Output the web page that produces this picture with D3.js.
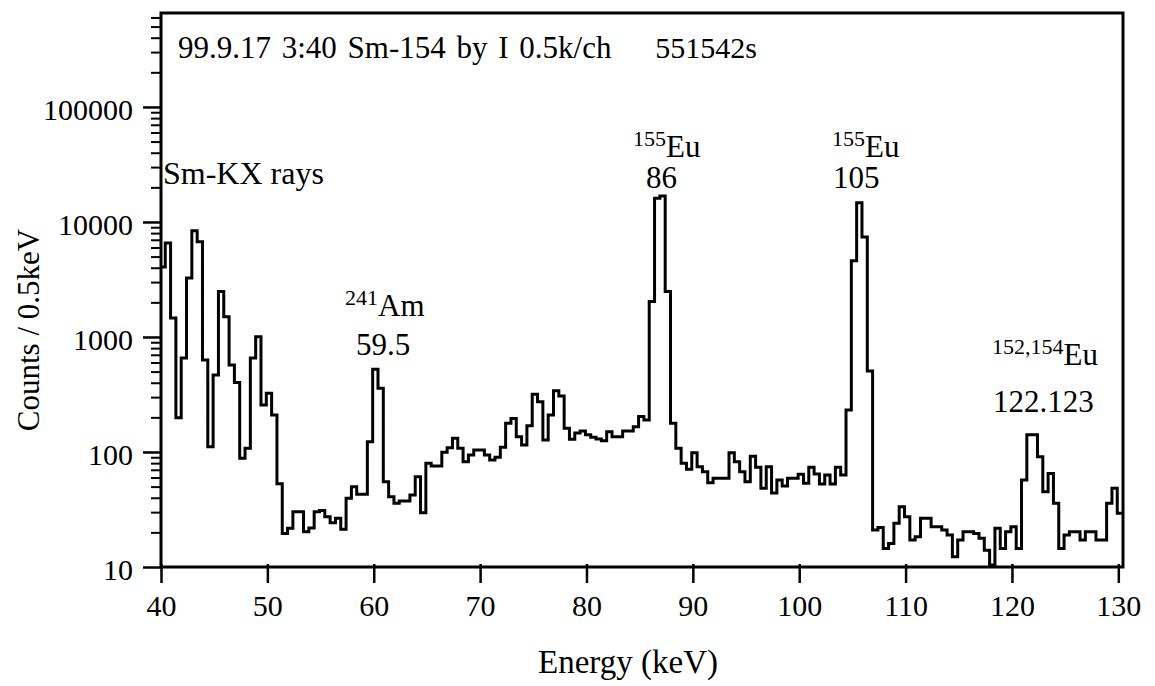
<!DOCTYPE html>
<html><head><meta charset="utf-8">
<script src="https://cdn.jsdelivr.net/npm/d3@7"></script>
<style>
body{margin:0;background:#fff}
text{font-family:"Liberation Serif","Times New Roman",serif;fill:#000}
</style>
</head><body>
<svg id="chart" width="1155" height="686"></svg>
<script>
// ---- data ----
const channelStart = 39.9;   // keV, lower edge of first channel
const channelWidth = 0.5;    // keV per channel
const counts = [
  4060, 6570, 1460, 198, 656, 3260, 8400, 6740, 631, 111,
  468, 2480, 1500, 571, 401, 88, 108, 656, 1006, 256,
  324, 210, 53, 19.6, 21.7, 30.3, 30.3, 20.3, 21.8, 30.3,
  31, 27.4, 24.3, 26.5, 21.3, 39.6, 49.9, 43, 43, 123,
  524, 358, 55.2, 40.8, 35.8, 37.5, 37.5, 42.3, 61, 29.7,
  79.8, 75.5, 75.5, 99.4, 109, 131.5, 108, 82.4, 94.2, 104,
  104, 94, 85, 90, 110, 178, 196, 136, 115, 169,
  318, 274, 127, 210, 341, 307, 161, 129, 146, 152,
  141, 134, 130, 125, 150, 136, 136, 152, 152, 166,
  203, 190, 2030, 16070, 16800, 2480, 178, 108, 80, 70.8,
  98.6, 74.5, 67.4, 54, 59, 59, 59, 98.6, 82.4, 67.4,
  55, 92, 73.6, 48.3, 74.5, 44, 57, 50.6, 59, 59,
  64, 53.5, 73.6, 64.4, 52.7, 63, 52.7, 73.6, 63, 232,
  4600, 14700, 7400, 505, 21, 22, 14.5, 16, 24, 33.4,
  27.4, 17.2, 18.3, 26.5, 26.5, 22.4, 22.4, 21, 19, 12.3,
  17.2, 20.3, 20.3, 19.6, 17.8, 14, 10.4, 21.7, 14.5, 20.3,
  22.4, 14.5, 57, 141, 141, 91, 45, 65, 35.8, 14.5,
  19, 20.3, 20.3, 17.2, 20.3, 20.3, 17.2, 17.2, 35.8, 48.3,
  29.3, 29.3
];
const xDomain = [40, 130.44];
const yDomain = [10, 656000];
const xTicks = [40, 50, 60, 70, 80, 90, 100, 110, 120, 130];
const yMajorTicks = [10, 100, 1000, 10000, 100000];
const yTickLabels = ["10", "100", "1000", "10000", "100000"];
const titleText = "99.9.17 3:40 Sm-154 by I 0.5k/ch";
const liveTimeText = "551542s";
const xTitle = "Energy (keV)";
const yTitle = "Counts / 0.5keV";
const kxLabel = "Sm-KX rays";
const peakIsotopes = ["241", "155", "155", "152,154"];
const peakElements = ["Am", "Eu", "Eu", "Eu"];
const peakEnergies = ["59.5", "86", "105", "122.123"];

// ---- layout ----
const L = 161, R = 1123, T = 13, B = 567;
const svg = d3.select("#chart");
const x = d3.scaleLinear().domain(xDomain).range([L, R]);
const y = d3.scaleLog().domain(yDomain).range([B, T]);

svg.append("defs").append("clipPath").attr("id", "clip")
  .append("rect").attr("x", L).attr("y", T).attr("width", R - L).attr("height", B - T);

// spectrum as step histogram
const pts = counts.map((c, i) => [channelStart + i * channelWidth, c]);
pts.push([channelStart + counts.length * channelWidth, counts[counts.length - 1]]);
const line = d3.line().x(d => x(d[0])).y(d => y(d[1])).curve(d3.curveStepAfter);
svg.append("path").attr("d", line(pts)).attr("clip-path", "url(#clip)")
  .attr("fill", "none").attr("stroke", "#000").attr("stroke-width", 3)
  .attr("stroke-linejoin", "miter");

// y axis (log), ticks outward to the left
const minor = [];
for (let d = 10; d < yDomain[1]; d *= 10) {
  for (let m = 2; m <= 9; m++) if (d * m <= yDomain[1]) minor.push(d * m);
}
svg.append("g").attr("transform", `translate(${L},0)`)
  .call(d3.axisLeft(y).tickValues(minor).tickSize(10).tickFormat(""))
  .call(g => g.select(".domain").remove())
  .call(g => g.selectAll(".tick line").attr("stroke-width", 2));
svg.append("g").attr("transform", `translate(${L},0)`)
  .call(d3.axisLeft(y).tickValues(yMajorTicks).tickSize(18)
    .tickFormat((d, i) => yTickLabels[i]))
  .call(g => g.select(".domain").remove())
  .call(g => g.selectAll(".tick line").attr("stroke-width", 2.5))
  .call(g => g.selectAll(".tick text")
    .attr("font-family", '"Liberation Serif", serif').attr("font-size", 30)
    .attr("x", -28).attr("dy", "0.42em"));

// x axis, ticks crossing the axis line downward
svg.append("g").attr("transform", `translate(0,${B})`)
  .call(d3.axisBottom(x).tickValues(xTicks).tickSize(16).tickFormat(d3.format("d")))
  .call(g => g.select(".domain").remove())
  .call(g => g.selectAll(".tick line").attr("y1", -3).attr("stroke-width", 2.5))
  .call(g => g.selectAll(".tick text")
    .attr("font-family", '"Liberation Serif", serif').attr("font-size", 30)
    .attr("y", 28).attr("dy", "0.71em"));

// frame
svg.append("rect").attr("x", L).attr("y", T).attr("width", R - L).attr("height", B - T)
  .attr("fill", "none").attr("stroke", "#000").attr("stroke-width", 3);

// titles
svg.append("text").attr("x", 628).attr("y", 673).attr("text-anchor", "middle")
  .attr("font-size", 33).text(xTitle);
svg.append("text").attr("transform", "translate(39,330) rotate(-90)")
  .attr("text-anchor", "middle").attr("font-size", 31).text(yTitle);

svg.append("text").attr("x", 178).attr("y", 58).attr("font-size", 31)
  .attr("word-spacing", 3).text(titleText);
svg.append("text").attr("x", 757).attr("y", 58).attr("font-size", 30)
  .attr("text-anchor", "end").text(liveTimeText);
svg.append("text").attr("x", 163).attr("y", 184).attr("font-size", 32).text(kxLabel);

// peak labels
const isoPos = [[345, 316], [633, 157], [832, 157], [992, 365]];
const enPos = [[356, 355], [646, 188], [833, 188], [993, 412]];
peakIsotopes.forEach((iso, i) => {
  const t = svg.append("text").attr("x", isoPos[i][0]).attr("y", isoPos[i][1]);
  t.append("tspan").attr("font-size", 22).attr("dy", -11).text(iso);
  t.append("tspan").attr("font-size", 31).attr("dy", 11).text(peakElements[i]);
  svg.append("text").attr("x", enPos[i][0]).attr("y", enPos[i][1])
    .attr("font-size", 31).text(peakEnergies[i]);
});
</script>
</body></html>
